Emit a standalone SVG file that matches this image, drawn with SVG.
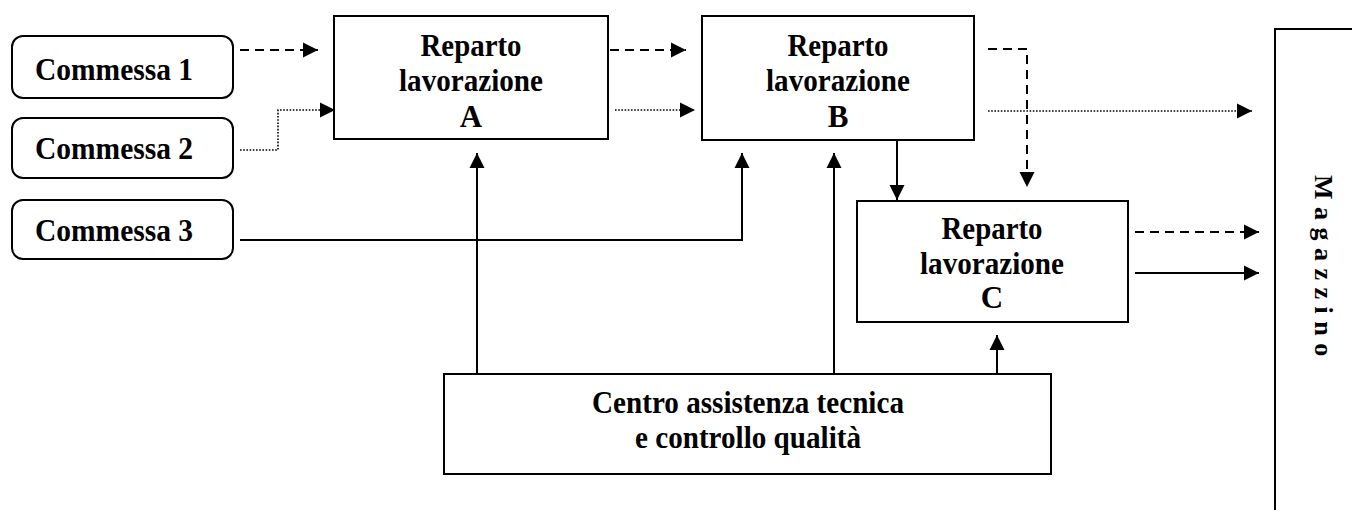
<svg xmlns="http://www.w3.org/2000/svg" width="1352" height="510" viewBox="0 0 1352 510">
<style>
.box{fill:#fff;stroke:#000;stroke-width:2}
.t{font-family:"Liberation Serif","Times New Roman",serif;font-weight:bold;font-size:31px;fill:#000;text-anchor:middle}
.ln{fill:none;stroke:#000;stroke-width:2}
.dash{stroke-dasharray:9 6}
.dot{stroke-width:1.6;stroke-dasharray:1.6 1.6}
.mag{font-family:"Liberation Serif","Times New Roman",serif;font-weight:bold;font-size:26px;fill:#000;letter-spacing:7.5px}
</style>
<defs>
<marker id="ah" markerUnits="userSpaceOnUse" markerWidth="17" markerHeight="17" viewBox="0 0 17 17" refX="16" refY="8.5" orient="auto">
<path d="M1,1 L16,8.5 L1,16 Z" fill="#000"/>
</marker>
</defs>
<rect width="1352" height="510" fill="#fff"/>

<g id="commessa1"><rect class="box" x="12" y="36" width="221" height="62" rx="11"/><text class="t" x="114" y="80" textLength="158" lengthAdjust="spacingAndGlyphs">Commessa 1</text></g>
<g id="commessa2"><rect class="box" x="12" y="118" width="221" height="60" rx="11"/><text class="t" x="114" y="159" textLength="158" lengthAdjust="spacingAndGlyphs">Commessa 2</text></g>
<g id="commessa3"><rect class="box" x="12" y="200" width="221" height="59" rx="11"/><text class="t" x="114" y="241" textLength="158" lengthAdjust="spacingAndGlyphs">Commessa 3</text></g>

<g id="repartoA"><rect class="box" x="334" y="16" width="274" height="123"/>
<text class="t" x="471" y="56" textLength="101" lengthAdjust="spacingAndGlyphs">Reparto</text>
<text class="t" x="471" y="91" textLength="144" lengthAdjust="spacingAndGlyphs">lavorazione</text>
<text class="t" x="471" y="127">A</text></g>

<g id="repartoB"><rect class="box" x="702" y="16" width="272" height="124"/>
<text class="t" x="838" y="56" textLength="101" lengthAdjust="spacingAndGlyphs">Reparto</text>
<text class="t" x="838" y="91" textLength="144" lengthAdjust="spacingAndGlyphs">lavorazione</text>
<text class="t" x="838" y="127">B</text></g>

<g id="repartoC"><rect class="box" x="857" y="201" width="271" height="121"/>
<text class="t" x="992" y="239" textLength="101" lengthAdjust="spacingAndGlyphs">Reparto</text>
<text class="t" x="992" y="274" textLength="144" lengthAdjust="spacingAndGlyphs">lavorazione</text>
<text class="t" x="992" y="308">C</text></g>

<g id="centro"><rect class="box" x="444" y="374" width="607" height="100"/>
<text class="t" x="748" y="413" textLength="312" lengthAdjust="spacingAndGlyphs">Centro assistenza tecnica</text>
<text class="t" x="748" y="448" textLength="226" lengthAdjust="spacingAndGlyphs">e controllo qualità</text></g>

<g id="magazzino"><rect class="box" x="1275" y="29" width="100" height="500"/>
<text class="mag" transform="translate(1315,175) rotate(90)" x="0" y="0">Magazzino</text></g>

<g id="connectors">
<path class="ln dash" d="M240,50 H318" marker-end="url(#ah)"/>
<path class="ln dot" d="M240,150 H278 V110 H335" marker-end="url(#ah)"/>
<path class="ln" d="M240,240 H742 V153" marker-end="url(#ah)"/>
<path class="ln dash" d="M610,50 H686" marker-end="url(#ah)"/>
<path class="ln dot" d="M615,110 H695" marker-end="url(#ah)"/>
<path class="ln dash" d="M988,49 H1027 V187" marker-end="url(#ah)"/>
<path class="ln dot" d="M988,111 H1252" marker-end="url(#ah)"/>
<path class="ln" d="M897,140 V200" marker-end="url(#ah)"/>
<path class="ln dash" d="M1135,232 H1259" marker-end="url(#ah)"/>
<path class="ln" d="M1135,273 H1259" marker-end="url(#ah)"/>
<path class="ln" d="M477,374 V153" marker-end="url(#ah)"/>
<path class="ln" d="M834,374 V153" marker-end="url(#ah)"/>
<path class="ln" d="M997,374 V335" marker-end="url(#ah)"/>
</g>
</svg>
